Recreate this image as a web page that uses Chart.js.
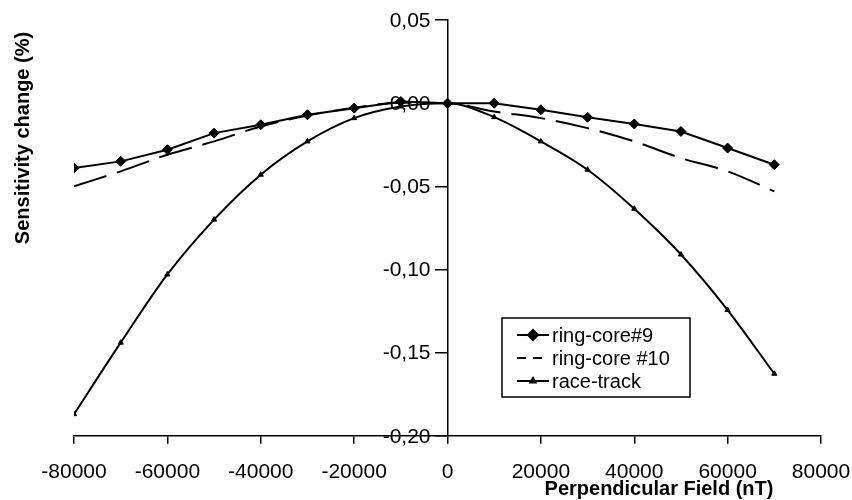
<!DOCTYPE html>
<html>
<head>
<meta charset="utf-8">
<script src="https://cdn.jsdelivr.net/npm/chart.js@4.4.1/dist/chart.umd.min.js"></script>
<style>
  html, body { margin: 0; padding: 0; background: #fff; }
  #wrap { width: 852px; height: 500px; position: relative; }
</style>
</head>
<body>
<div id="wrap"><canvas id="sensChart"></canvas></div>
<script>
// field values (nT)
const fieldNT = [-80000, -70000, -60000, -50000, -40000, -30000, -20000, -10000, 0,
                 10000, 20000, 30000, 40000, 50000, 60000, 70000];

// sensitivity change (%)
const ringCore9 = [-0.039, -0.035, -0.028, -0.018, -0.013, -0.007, -0.003, 0.001, 0,
                   0.000, -0.004, -0.0085, -0.0125, -0.017, -0.027, -0.037];
const ringCore10 = [-0.050, -0.041, -0.031, -0.023, -0.014, -0.0075, -0.0028, 0.0003, 0,
                    -0.005, -0.009, -0.015, -0.023, -0.033, -0.041, -0.053];
const raceTrack = [-0.187, -0.144, -0.103, -0.070, -0.043, -0.023, -0.009, -0.002, 0,
                   -0.0084, -0.023, -0.040, -0.0635, -0.091, -0.1244, -0.1627];

const seriesNames = ['ring-core#9', 'ring-core #10', 'race-track'];
const xTicks = [-80000, -60000, -40000, -20000, 0, 20000, 40000, 60000, 80000];
const yTicks = [0.05, 0.00, -0.05, -0.10, -0.15, -0.20];

const xTitle = 'Perpendicular Field (nT)';
const yTitle = 'Sensitivity change (%)';

const FONT = '"Liberation Sans", Arial, sans-serif';

function toPoints(vals) {
    return fieldNT.map((x, i) => ({ x: x, y: vals[i] }));
}

function yLabel(v) {
    return v.toFixed(2).replace('.', ',');
}

// y tick labels, axis titles and the boxed legend are drawn by hand:
// a y axis placed at x = 0 puts its labels right on the axis line otherwise
const decorations = {
    id: 'decorations',
    afterDraw(chart) {
        const ctx = chart.ctx;
        const xs = chart.scales.x;
        const ys = chart.scales.y;
        ctx.save();
        ctx.fillStyle = '#000';

        // y tick labels left of the centre axis
        ctx.font = '21px ' + FONT;
        ctx.textAlign = 'right';
        ctx.textBaseline = 'middle';
        const axisX = xs.getPixelForValue(0);
        yTicks.forEach(v => {
            ctx.fillText(yLabel(v), axisX - 17, ys.getPixelForValue(v) + 1);
        });

        // y title
        ctx.font = 'bold 20px ' + FONT;
        ctx.textAlign = 'center';
        ctx.translate(23, 138);
        ctx.rotate(-Math.PI / 2);
        ctx.fillText(yTitle, 0, 0);
        ctx.setTransform(1, 0, 0, 1, 0, 0);

        // x title
        ctx.fillText(xTitle, 659, 489);

        // legend
        const bx = 502, by = 318, bw = 188, bh = 79;
        ctx.lineWidth = 1.5;
        ctx.strokeStyle = '#000';
        ctx.strokeRect(bx, by, bw, bh);
        ctx.font = '20px ' + FONT;
        ctx.textAlign = 'left';
        chart.data.datasets.forEach((ds, i) => {
            const ry = 335 + i * 23;
            ctx.beginPath();
            ctx.lineWidth = 2;
            ctx.setLineDash(ds.borderDash && ds.borderDash.length ? [9, 7] : []);
            ctx.moveTo(517, ry);
            ctx.lineTo(549, ry);
            ctx.stroke();
            ctx.setLineDash([]);
            if (ds.pointRadius > 0) {
                Chart.helpers.drawPoint(ctx, {
                    pointStyle: ds.pointStyle,
                    radius: ds.pointRadius,
                    borderWidth: 1
                }, 533, ry);
            }
            ctx.fillText(ds.label, 552, ry + 1);
        });
        ctx.restore();
    }
};

const ctx = document.getElementById('sensChart').getContext('2d');
new Chart(ctx, {
    type: 'line',
    data: {
        datasets: [
            {
                label: seriesNames[0],
                data: toPoints(ringCore9),
                borderColor: '#000',
                backgroundColor: '#000',
                borderWidth: 2,
                pointStyle: 'rectRot',
                pointRadius: 5,
                pointBorderWidth: 1,
                tension: 0
            },
            {
                label: seriesNames[1],
                data: toPoints(ringCore10),
                borderColor: '#000',
                backgroundColor: '#000',
                borderWidth: 2,
                borderDash: [34, 11],
                pointRadius: 0,
                cubicInterpolationMode: 'monotone'
            },
            {
                label: seriesNames[2],
                data: toPoints(raceTrack),
                borderColor: '#000',
                backgroundColor: '#000',
                borderWidth: 2,
                pointStyle: 'triangle',
                pointRadius: 3,
                pointBorderWidth: 1,
                cubicInterpolationMode: 'monotone'
            }
        ]
    },
    options: {
        responsive: true,
        maintainAspectRatio: false,
        animation: false,
        layout: { padding: { left: 74, right: 31, top: 20, bottom: -1 } },
        plugins: {
            legend: { display: false },
            tooltip: { enabled: false }
        },
        scales: {
            x: {
                type: 'linear',
                position: 'bottom',
                min: -80000,
                max: 80000,
                afterBuildTicks: (axis) => { axis.ticks = xTicks.map(v => ({ value: v })); },
                // let the end labels hang over the edges as in the original
                afterFit: (axis) => { axis.paddingLeft = 0; axis.paddingRight = 0; },
                grid: { drawOnChartArea: false, drawTicks: true, tickLength: 8, color: '#000', lineWidth: 1.5 },
                border: { display: true, color: '#000', width: 1.5 },
                ticks: {
                    color: '#000',
                    font: { family: FONT, size: 21 },
                    padding: 16,
                    maxRotation: 0,
                    autoSkip: false,
                    callback: (v) => String(v)
                }
            },
            y: {
                type: 'linear',
                position: { x: 0 },
                min: -0.20,
                max: 0.05,
                afterBuildTicks: (axis) => { axis.ticks = yTicks.map(v => ({ value: v })); },
                grid: { drawOnChartArea: false, drawTicks: true, tickLength: 12, color: '#000', lineWidth: 1.5 },
                border: { display: true, color: '#000', width: 1.5 },
                ticks: { display: false }
            }
        }
    },
    plugins: [decorations]
});
</script>
</body>
</html>
